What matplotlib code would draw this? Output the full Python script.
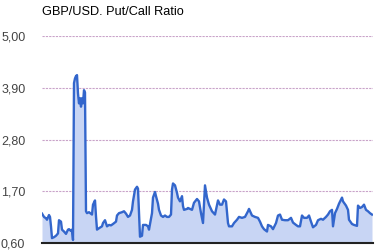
import matplotlib
matplotlib.use("Agg")
import matplotlib.pyplot as plt

title = "GBP/USD. Put/Call Ratio"
tick_values = [0.60, 1.70, 2.80, 3.90, 5.00]
tick_labels = ["0,60", "1,70", "2,80", "3,90", "5,00"]

days = [0, 2, 4, 5, 7, 8, 9, 10, 12, 14, 16, 17, 19, 20, 22, 24, 26, 27, 29, 30, 31,
        32, 33, 34, 35, 36, 37, 38, 39, 40, 41, 42, 43,
        44, 45, 47, 50, 51, 53, 54, 55, 57, 60, 61, 63, 65, 67, 69, 71, 74, 75, 77, 80,
        82, 84, 86, 88, 90, 91, 93, 95, 96, 97, 98, 100, 101, 104, 106, 107, 110, 111,
        113, 114, 116, 117, 119, 121, 123, 125, 127, 129, 130, 131, 133, 135, 136, 138,
        140, 141, 142, 145, 146, 150, 152, 155, 157, 159, 161, 163, 165, 167, 170, 173,
        176, 178, 180, 182, 184, 186, 187, 190, 192, 195, 197, 200, 203, 206, 207, 210,
        213, 216, 218, 220, 222, 225, 226, 229, 231, 234, 236, 238, 240, 243, 246, 249,
        251, 254, 256, 258, 260, 262, 265, 267, 269, 271, 274, 276, 279, 281, 284, 286,
        288, 290, 291, 293, 295, 297, 300, 301, 304, 306, 307, 310, 312, 315, 316, 318,
        320, 322, 324, 326, 328, 330]
ratio = [1.23, 1.16, 1.13, 1.10, 1.20, 1.16, 0.96, 0.71, 0.73, 0.76, 0.81, 1.09, 1.06, 0.89,
         0.85, 0.80, 0.89, 0.90, 0.86, 0.89, 0.67,
         4.00, 4.10, 4.15, 4.17, 3.78, 3.57, 3.68, 3.50, 3.68, 3.57, 3.85, 3.80,
         1.28, 1.24, 1.26, 1.21, 1.42, 1.51, 1.17, 0.89, 0.92, 0.96, 1.03, 1.09, 0.96, 0.99,
         0.98, 1.01, 1.06, 1.19, 1.24, 1.26, 1.28, 1.23, 1.16, 1.19, 1.31, 1.49, 1.74, 1.80,
         1.76, 1.24, 0.74, 0.76, 0.99, 0.99, 0.96, 0.89, 1.24, 1.57, 1.69, 1.60, 1.44, 1.31,
         1.19, 1.16, 1.19, 1.16, 1.16, 1.21, 1.74, 1.87, 1.83, 1.67, 1.57, 1.49, 1.60, 1.39,
         1.31, 1.33, 1.35, 1.31, 1.46, 1.54, 1.49, 1.24, 1.03, 1.83, 1.57, 1.42, 1.28, 1.21,
         1.51, 1.42, 1.42, 1.53, 1.49, 1.03, 0.96, 0.96, 1.03, 1.10, 1.16, 1.14, 1.16, 1.28,
         1.33, 1.19, 1.16, 1.14, 1.06, 0.96, 0.90, 0.85, 0.99, 0.96, 0.90, 1.03, 1.19, 1.21,
         1.10, 1.09, 1.09, 1.14, 1.04, 0.99, 0.96, 0.96, 1.19, 1.14, 1.14, 1.19, 1.06, 0.94,
         0.99, 1.09, 1.12, 1.10, 1.16, 1.21, 1.28, 1.31, 0.96, 1.24, 1.33, 1.44, 1.57, 1.49,
         1.40, 1.31, 1.10, 1.01, 0.99, 0.97, 1.40, 1.35, 1.37, 1.42, 1.31, 1.28, 1.24, 1.21]

plt.rcParams['font.family'] = ['Liberation Sans', 'DejaVu Sans']

fig = plt.figure(figsize=(3.77, 2.5), dpi=100)
ax = fig.add_axes([42/377, 6.7/250, 331/377, 207.3/250])

ax.fill_between(days, ratio, 0.6, color="#c8d5f4", linewidth=0)
ax.plot(days, ratio, color="#3366cc", linewidth=1.7, solid_joinstyle="round")

ax.set_xlim(0, 331)
ax.set_ylim(0.6, 5.0)
ax.set_yticks(tick_values)
ax.set_yticklabels(tick_labels, fontsize=9, color="#444444")
ax.tick_params(axis="y", length=0, pad=12)
ax.set_xticks([])

for v in tick_values[1:]:
    ax.axhline(v, color="#c9a3c9", linewidth=0.8, linestyle=(0, (2, 1)), zorder=0)

for s in ["top", "right", "left"]:
    ax.spines[s].set_visible(False)
ax.spines["bottom"].set_color("#222222")
ax.spines["bottom"].set_linewidth(1.5)
ax.patch.set_alpha(0)

fig.text(42/377, 1 - 12/250, title, fontsize=9.2, fontweight="normal", color="#000000",
         va="center", ha="left")

fig.savefig("out.png", dpi=100)
